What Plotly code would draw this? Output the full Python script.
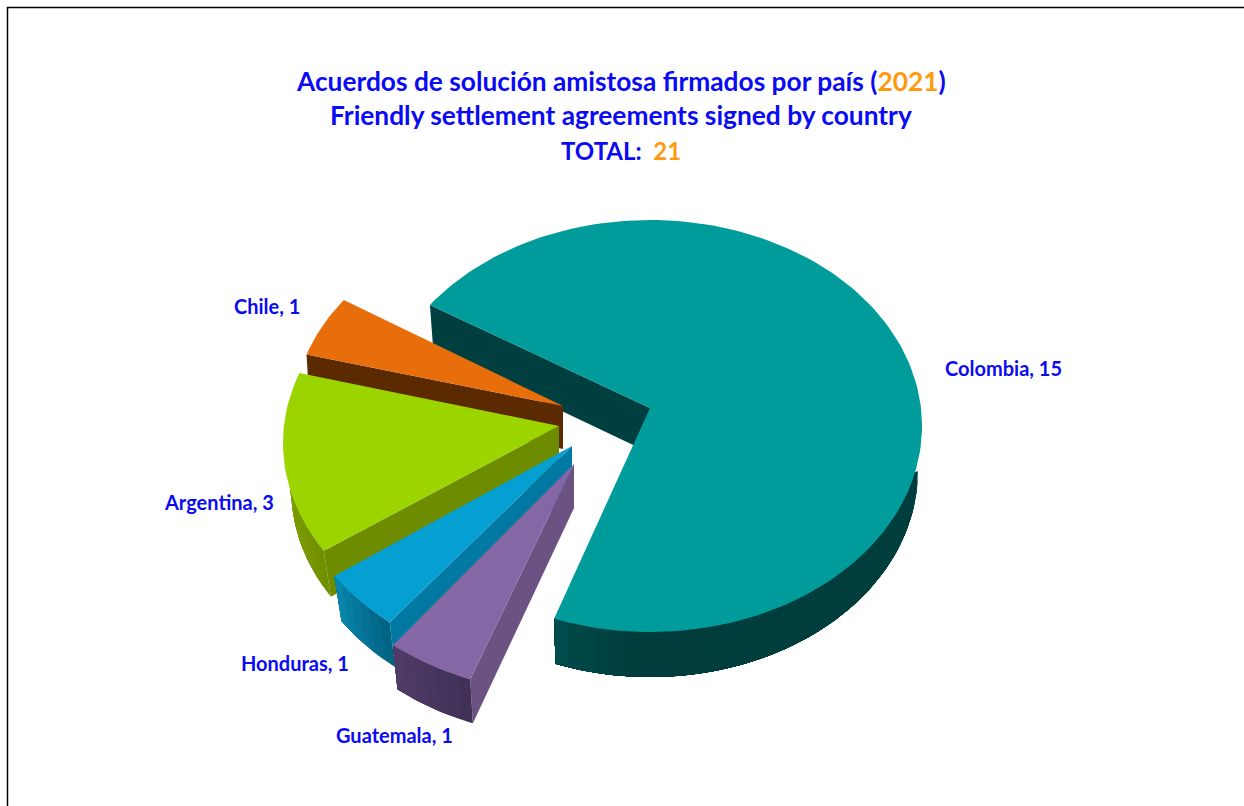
import math
import plotly.graph_objects as go

# Data
countries = ["Colombia", "Guatemala", "Honduras", "Argentina", "Chile"]
agreements = [15, 1, 1, 3, 1]
title_lines = [
    "Acuerdos de solución amistosa firmados por país (<span style='color:#FF9A0E'>2021</span>)",
    "Friendly settlement agreements signed by country",
    "TOTAL: <span style='color:#FF9A0E'> 21</span>",
]

# Style and layout of the pseudo-3D exploded pie (page-pixel coordinates)
START_ANGLE = -54.0
RY = 206.0
RIM_MARGIN = 13.0
apex = {"Colombia": (650, 408), "Guatemala": (574, 464), "Honduras": (572, 446),
        "Argentina": (559, 426), "Chile": (563, 406)}
rx = {"Colombia": 272, "Guatemala": 280, "Honduras": 282, "Argentina": 276, "Chile": 271}
centre_drop = {"Colombia": 18, "Guatemala": 24, "Honduras": 19, "Argentina": 17, "Chile": 15}
depth = {"Colombia": 45, "Guatemala": 44, "Honduras": 45, "Argentina": 46, "Chile": 43}
floor_scale = {"Colombia": 0.985, "Guatemala": 0.975, "Honduras": 0.97, "Argentina": 0.97, "Chile": 0.99}
edge_nudge = {"Colombia": (0.0, -2.5), "Guatemala": (-1.4, 0.0), "Honduras": (0.0, 0.0),
              "Argentina": (1.0, 1.0), "Chile": (0.0, 0.0)}
top_col = {"Colombia": "#009B9B", "Guatemala": "#8567A5", "Honduras": "#059FD1",
           "Argentina": "#9CD400", "Chile": "#E86D0B"}
cut_col = {"Colombia": "#003F3F", "Guatemala": "#6B5282", "Honduras": "#0079A3",
           "Argentina": "#6E8C00", "Chile": "#5C2A00"}
rim_stops = {
    "Colombia": [(90, "#003F3F"), (183, "#003C3C"), (202, "#004E4E")],
    "Guatemala": [(201, "#3F2F55"), (220, "#4F3D68")],
    "Honduras": [(220, "#00607F"), (237, "#0A86AE")],
    "Argentina": [(238, "#6F8F00"), (270, "#84A600")],
    "Chile": [(289, "#5C2A00"), (306, "#5C2A00")],
}
label_pos = {"Colombia": (1003, 368), "Guatemala": (394, 735), "Honduras": (295, 663),
             "Argentina": (219, 502), "Chile": (267, 306)}
label_size = 20
title_sizes = (26.3, 26.3, 24)
title_y = (81, 115, 150)
draw_order = ["Colombia", "Chile", "Argentina", "Honduras", "Guatemala"]
BLUE = "#0A0AF5"
FONT = "Lato"


def point(name, a, dy=0.0, scale=1.0):
    ax, ay = apex[name]
    t = math.radians(a)
    return ax + rx[name] * scale * math.sin(t), ay + centre_drop[name] - RY * math.cos(t) + dy


def arc_points(name, a0, a1, steps=120):
    n = max(2, int(abs(a1 - a0) / 180 * steps) + 2)
    pts = [point(name, a0 + (a1 - a0) * i / (n - 1)) for i in range(n)]
    return [p[0] for p in pts], [p[1] for p in pts]


def polygon(xs, ys, color, name):
    return go.Scatter(x=xs + xs[:1], y=ys + ys[:1], mode="lines", fill="toself", fillcolor=color,
                      line=dict(color=color, width=0), name=name, hoverinfo="name", showlegend=False)


def rim_color(name, a):
    stops = rim_stops[name]
    if a <= stops[0][0]:
        return stops[0][1]
    for (a0, c0), (a1, c1) in zip(stops, stops[1:]):
        if a <= a1:
            f = (a - a0) / (a1 - a0)
            rgb = [round(int(c0[i:i + 2], 16) * (1 - f) + int(c1[i:i + 2], 16) * f) for i in (1, 3, 5)]
            return "#%02X%02X%02X" % tuple(rgb)
    return stops[-1][1]


# Angular span of every slice from the values
total = sum(agreements)
spans = {}
angle = START_ANGLE
for c, v in zip(countries, agreements):
    d0, d1 = edge_nudge[c]
    spans[c] = (angle + d0, angle + v / total * 360 + d1)
    angle += v / total * 360

fig = go.Figure()
for c in draw_order:
    a0, a1 = spans[c]
    ax, ay = apex[c]
    d = depth[c]
    s = floor_scale[c]
    # cut wall along the slice's first edge
    ex, ey = point(c, a0)
    fx, fy = point(c, a0, dy=d, scale=s)
    fig.add_trace(polygon([ex, ax, ax, fx], [ey, ay, ay + d, fy], cut_col[c], c))
    # outer rim wall, painted as overlapping bands so that no seams show
    lo, hi = max(a0, 90), min(a1, 270)
    if hi > lo:
        top_lo = 90 + RIM_MARGIN
        top_hi = 270 - RIM_MARGIN
        n = max(2, int((hi - lo) / 3) + 1)
        for i in range(n):
            b0 = lo + (hi - lo) * i / n
            m = n - i + 1
            angles = [b0 + (hi - b0) * k / (m * 2) for k in range(m * 2 + 1)]
            tops = [point(c, min(max(a, top_lo), top_hi)) for a in angles]
            floors = [point(c, a, d, s) for a in reversed(angles)]
            pts = tops + floors
            fig.add_trace(polygon([p[0] for p in pts], [p[1] for p in pts],
                                  rim_color(c, b0 + (hi - lo) / (2 * n)), c))
    # top face
    tx, ty = arc_points(c, a0, a1)
    fig.add_trace(polygon([ax] + tx, [ay] + ty, top_col[c], c))

annotations = []
for c, v in zip(countries, agreements):
    lx, ly = label_pos[c]
    annotations.append(dict(x=lx, y=ly, xref="x", yref="y", text=f"<b>{c}, {v}</b>", showarrow=False,
                            font=dict(family=FONT, size=label_size, color=BLUE)))
for line, ty, sz in zip(title_lines, title_y, title_sizes):
    annotations.append(dict(x=620.5, y=ty, xref="x", yref="y", text=f"<b>{line}</b>", showarrow=False,
                            font=dict(family=FONT, size=sz, color=BLUE)))

fig.update_layout(
    width=1244, height=806, margin=dict(l=0, r=0, t=0, b=0),
    paper_bgcolor="white", plot_bgcolor="white", showlegend=False,
    xaxis=dict(range=[0, 1244], visible=False, fixedrange=True),
    yaxis=dict(range=[806, 0], visible=False, fixedrange=True),
    annotations=annotations,
    shapes=[dict(type="path", path="M 7.5 806 L 7.5 7.5 L 1244 7.5", xref="x", yref="y",
                 line=dict(color="black", width=1.5))],
)
fig.write_html("out.html", config={"displayModeBar": False},
               post_script="document.body.style.margin='0';document.documentElement.style.overflow='hidden';")
